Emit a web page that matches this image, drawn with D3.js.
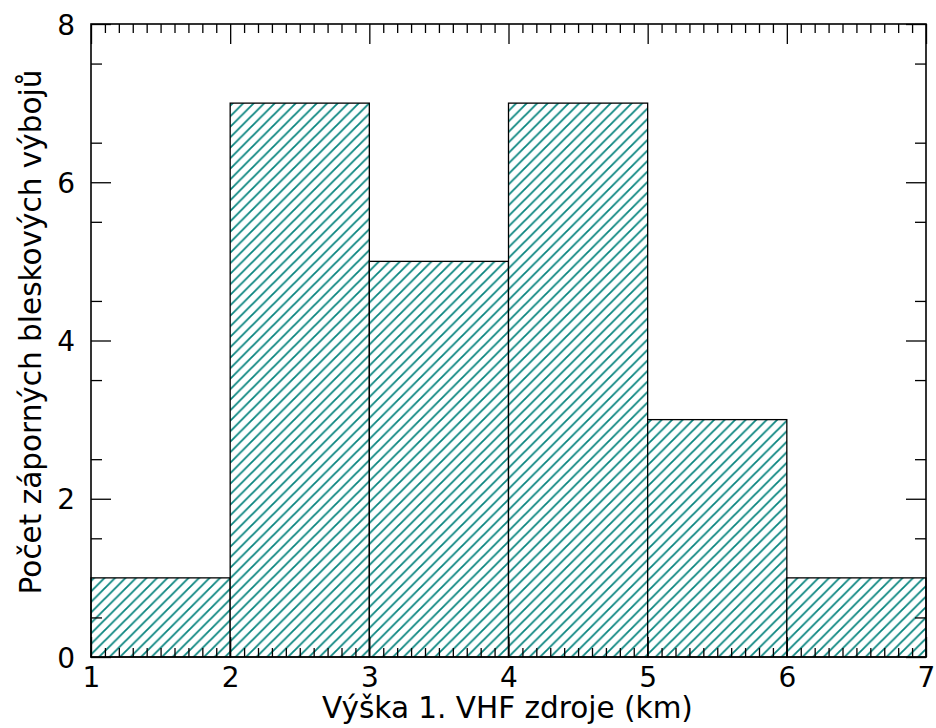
<!DOCTYPE html>
<html><head><meta charset="utf-8">
<script src="https://cdn.jsdelivr.net/npm/d3@7"></script>
<style>body{margin:0;background:#fff}svg{display:block}text{font-family:"DejaVu Sans",sans-serif}</style>
</head><body>
<script>
const binEdges = [1, 2, 3, 4, 5, 6, 7];
const counts = [1, 7, 5, 7, 3, 1];
const xTicks = [1, 2, 3, 4, 5, 6, 7];
const yTicks = [0, 2, 4, 6, 8];
const xLabel = "Výška 1. VHF zdroje (km)";
const yLabel = "Počet záporných bleskových výbojů";

const W = 936, H = 728;
const m = {l: 91, r: 10, t: 24, b: 71};
const svg = d3.select("body").append("svg").attr("width", W).attr("height", H);
const x = d3.scaleLinear().domain([1, 7]).range([m.l, W - m.r]);
const y = d3.scaleLinear().domain([0, 8]).range([H - m.b, m.t]);

const hs = 10.5;
const defs = svg.append("defs");
const pat = defs.append("pattern").attr("id", "hatch").attr("patternUnits", "userSpaceOnUse")
  .attr("width", hs).attr("height", hs);
pat.append("rect").attr("width", hs).attr("height", hs).attr("fill", "#fff");
pat.append("path").attr("d", `M${-hs/2},${hs/2} L${hs/2},${-hs/2} M0,${hs} L${hs},0 M${hs/2},${hs*1.5} L${hs*1.5},${hs/2}`)
  .attr("stroke", "#0a857f").attr("stroke-width", 1.8);

const bins = counts.map((c, i) => ({x0: binEdges[i], x1: binEdges[i + 1], c}));
svg.append("g").selectAll("rect").data(bins).join("rect")
  .attr("x", d => x(d.x0)).attr("width", d => x(d.x1) - x(d.x0))
  .attr("y", d => y(d.c)).attr("height", d => y(0) - y(d.c))
  .attr("fill", "url(#hatch)").attr("stroke", "#000").attr("stroke-width", 1.3);

const xMinor = d3.range(10, 71).map(v => v / 10).filter(v => Math.abs(v - Math.round(v)) > 1e-6);
const yMinor = d3.range(1, 16, 2).map(v => v / 2);
const FS = 28, LFS = 29.5;

function styleAxis(g) {
  g.select(".domain").remove();
  g.selectAll("line").attr("stroke", "#000").attr("stroke-width", 1.3);
  g.selectAll("text").attr("font-size", FS).attr("fill", "#000");
}
// bottom
svg.append("g").attr("transform", `translate(0,${y(0)})`)
  .call(d3.axisBottom(x).tickValues(xTicks).tickSizeInner(-20).tickSizeOuter(0).tickPadding(3).tickFormat(d3.format("d")))
  .call(styleAxis).selectAll("text").attr("dy", "0.95em");
svg.append("g").attr("transform", `translate(0,${y(0)})`)
  .call(d3.axisBottom(x).tickValues(xMinor).tickSizeInner(-9).tickSizeOuter(0).tickFormat(""))
  .call(styleAxis);
// top
svg.append("g").attr("transform", `translate(0,${y(8)})`)
  .call(d3.axisTop(x).tickValues(xTicks).tickSizeInner(-20).tickSizeOuter(0).tickFormat(""))
  .call(styleAxis);
svg.append("g").attr("transform", `translate(0,${y(8)})`)
  .call(d3.axisTop(x).tickValues(xMinor).tickSizeInner(-9).tickSizeOuter(0).tickFormat(""))
  .call(styleAxis);
// left
svg.append("g").attr("transform", `translate(${x(1)},0)`)
  .call(d3.axisLeft(y).tickValues(yTicks).tickSizeInner(-20).tickSizeOuter(0).tickPadding(16).tickFormat(d3.format("d")))
  .call(styleAxis).selectAll("text").attr("dy", "0.36em");
svg.append("g").attr("transform", `translate(${x(1)},0)`)
  .call(d3.axisLeft(y).tickValues(yMinor).tickSizeInner(-11).tickSizeOuter(0).tickFormat(""))
  .call(styleAxis);
// right
svg.append("g").attr("transform", `translate(${x(7)},0)`)
  .call(d3.axisRight(y).tickValues(yTicks).tickSizeInner(-20).tickSizeOuter(0).tickFormat(""))
  .call(styleAxis);
svg.append("g").attr("transform", `translate(${x(7)},0)`)
  .call(d3.axisRight(y).tickValues(yMinor).tickSizeInner(-11).tickSizeOuter(0).tickFormat(""))
  .call(styleAxis);

// frame
svg.append("rect").attr("x", x(1)).attr("y", y(8)).attr("width", x(7) - x(1)).attr("height", y(0) - y(8))
  .attr("fill", "none").attr("stroke", "#000").attr("stroke-width", 1.6);

svg.append("text").attr("x", (x(1) + x(7)) / 2 - 1).attr("y", 718).attr("text-anchor", "middle")
  .attr("font-size", LFS).text(xLabel);
svg.append("text").attr("transform", `translate(41,332) rotate(-90)`)
  .attr("text-anchor", "middle").attr("font-size", LFS).text(yLabel);
</script>
</body></html>
